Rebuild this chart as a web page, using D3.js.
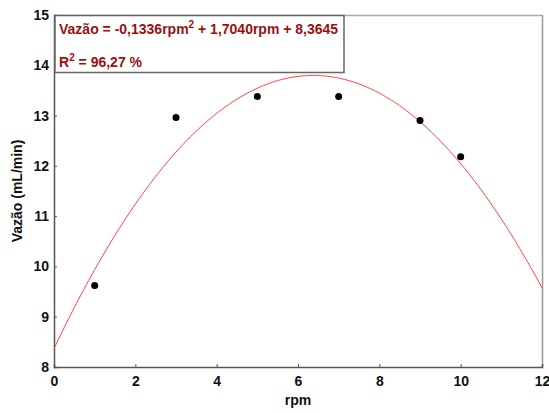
<!DOCTYPE html>
<html><head><meta charset="utf-8">
<script src="https://cdn.jsdelivr.net/npm/d3@7"></script>
<style>body{margin:0;background:#fff}svg{display:block}text{font-family:"Liberation Sans",Arial,sans-serif;font-weight:bold}</style>
</head><body>
<svg id="c" width="549" height="413"></svg>
<script>
const rpm = [1, 3, 5, 7, 9, 10];
const vazao = [9.62, 12.96, 13.38, 13.38, 12.9, 12.18];
const coef = [-0.1336, 1.7040, 8.3645];
const xTicks = [0, 2, 4, 6, 8, 10, 12];
const yTicks = [8, 9, 10, 11, 12, 13, 14, 15];

const svg = d3.select("#c");
const L = 54, R = 542, T = 15, B = 367;
const x = d3.scaleLinear().domain([0, 12]).range([L, R]);
const y = d3.scaleLinear().domain([8, 15]).range([B, T]);

// frame
svg.append("line").attr("x1", L).attr("x2", R).attr("y1", T+0.5).attr("y2", T+0.5).attr("stroke", "#aaa").attr("stroke-width", 1.5);
svg.append("line").attr("x1", R+0.5).attr("x2", R+0.5).attr("y1", T).attr("y2", B).attr("stroke", "#999").attr("stroke-width", 1.5);

const xa = svg.append("g").attr("transform", `translate(0,${B})`)
  .call(d3.axisBottom(x).tickValues(xTicks).tickSize(-3).tickPadding(9).tickFormat(d3.format("d")));
const ya = svg.append("g").attr("transform", `translate(${L},0)`)
  .call(d3.axisLeft(y).tickValues(yTicks).tickSize(-3).tickPadding(5).tickFormat(d3.format("d")));
[xa, ya].forEach(a => {
  a.select(".domain").attr("stroke", "#555").attr("stroke-width", 1.5);
  a.selectAll(".tick line").attr("stroke", "#555");
  a.selectAll(".tick text").attr("font-size", 14).attr("font-weight", "bold").attr("fill", "#111")
   .attr("font-family", "Liberation Sans, Arial, sans-serif");
});

// fitted curve
const xs = d3.range(0, 12.0001, 0.05);
const f = v => coef[0]*v*v + coef[1]*v + coef[2];
svg.append("path").datum(xs)
  .attr("d", d3.line().x(d => x(d)).y(d => y(f(d))))
  .attr("fill", "none").attr("stroke", "#ff4040").attr("stroke-width", 1);

// points
svg.selectAll("circle.p").data(rpm).enter().append("circle")
  .attr("cx", (d) => x(d)).attr("cy", (d, i) => y(vazao[i])).attr("r", 3.5).attr("fill", "#000");

// legend box
svg.append("rect").attr("x", 55).attr("y", 15.5).attr("width", 289).attr("height", 57)
  .attr("fill", "#fff").attr("stroke", "#666").attr("stroke-width", 1.5);
const t1 = svg.append("text").attr("x", 59).attr("y", 34).attr("font-size", 14).attr("fill", "#9b1111");
t1.append("tspan").text("Vazão = -0,1336rpm");
t1.append("tspan").attr("dy", -6).attr("font-size", 10).text("2");
t1.append("tspan").attr("dy", 6).text(" + 1,7040rpm + 8,3645");
const t2 = svg.append("text").attr("x", 59).attr("y", 67).attr("font-size", 14).attr("fill", "#9b1111");
t2.append("tspan").text("R");
t2.append("tspan").attr("dy", -6).attr("font-size", 10).text("2");
t2.append("tspan").attr("dy", 6).text(" = 96,27 %");

// axis titles
svg.append("text").attr("x", (L+R)/2).attr("y", 405).attr("text-anchor", "middle").attr("font-size", 14).attr("fill", "#111").text("rpm");
svg.append("text").attr("transform", `translate(22,${(T+B)/2}) rotate(-90)`).attr("text-anchor", "middle").attr("font-size", 14).attr("fill", "#111").text("Vazão (mL/min)");
</script>
</body></html>
